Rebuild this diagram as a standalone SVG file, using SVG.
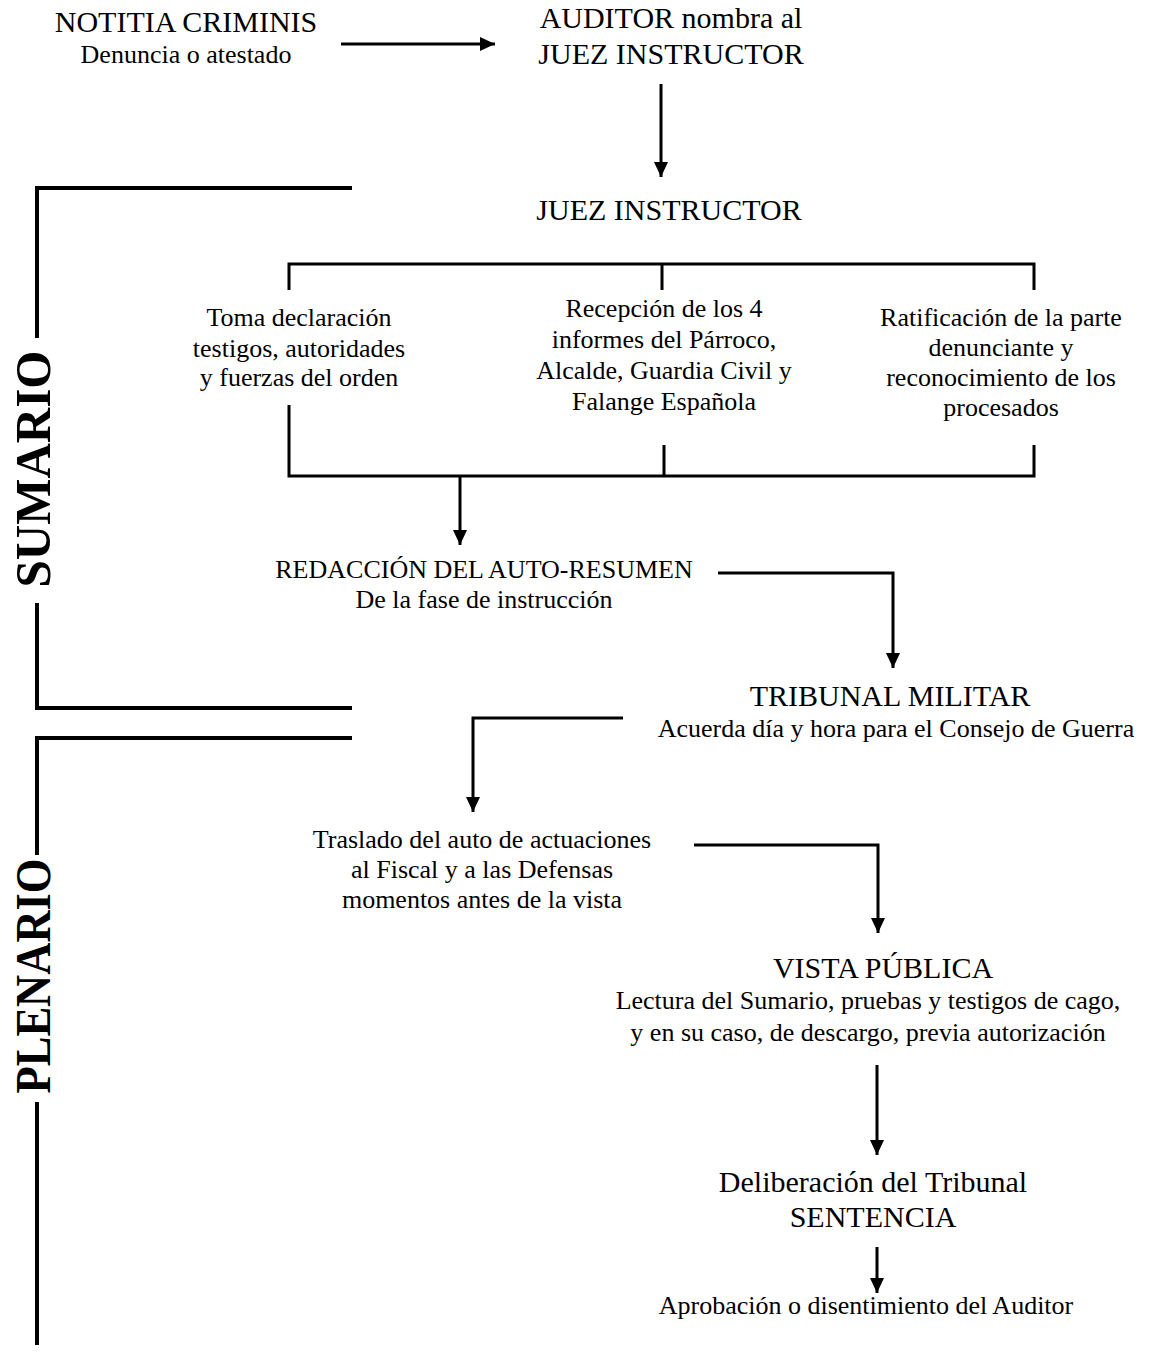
<svg xmlns="http://www.w3.org/2000/svg" width="1149" height="1353" viewBox="0 0 1149 1353">
<style>
text{font-family:"Liberation Serif","Times New Roman",serif;fill:#000;text-anchor:middle}
.b{font-size:30px}
.s{font-size:26px}
.ph{font-size:50px;font-weight:bold}
.c{fill:none;stroke:#000;stroke-width:3}
.br{fill:none;stroke:#000;stroke-width:4}
</style>
<defs>
<marker id="ah" markerUnits="userSpaceOnUse" markerWidth="15" markerHeight="14" refX="15" refY="7" orient="auto">
<path d="M0,0 L15,7 L0,14 z" fill="#000"/>
</marker>
</defs>
<rect width="1149" height="1353" fill="#fff"/>
<g id="phase-sumario">
<path class="br" d="M352,188 H37 V338 M37,603 V708 H352"/>
<text class="ph" transform="translate(50,469) rotate(-90)" textLength="237" lengthAdjust="spacingAndGlyphs">SUMARIO</text>
</g>
<g id="phase-plenario">
<path class="br" d="M352,738 H37 V855 M37,1102 V1345"/>
<text class="ph" transform="translate(50,976) rotate(-90)" textLength="235" lengthAdjust="spacingAndGlyphs">PLENARIO</text>
</g>
<g id="connectors">
<path class="c" d="M341,44 H495" marker-end="url(#ah)"/>
<path class="c" d="M661,84 V177" marker-end="url(#ah)"/>
<path class="c" d="M289,290 V264 H1034 V290 M662,264 V290"/>
<path class="c" d="M289,405 V476 H1034 V445 M664,445 V476"/>
<path class="c" d="M460,476 V545" marker-end="url(#ah)"/>
<path class="c" d="M718,573 H893 V668" marker-end="url(#ah)"/>
<path class="c" d="M623,718 H473 V812" marker-end="url(#ah)"/>
<path class="c" d="M694,845 H878 V933" marker-end="url(#ah)"/>
<path class="c" d="M877,1065 V1155" marker-end="url(#ah)"/>
<path class="c" d="M877,1247 V1293" marker-end="url(#ah)"/>
</g>
<g id="notitia">
<text class="b" x="186" y="32">NOTITIA CRIMINIS</text>
<text class="s" x="186" y="63">Denuncia o atestado</text>
</g>
<g id="auditor">
<text class="b" x="671" y="28">AUDITOR nombra al</text>
<text class="b" x="671" y="64">JUEZ INSTRUCTOR</text>
</g>
<g id="juez">
<text class="b" x="669" y="220">JUEZ INSTRUCTOR</text>
</g>
<g id="declaracion">
<text class="s" x="299" y="326">Toma declaración</text>
<text class="s" x="299" y="357">testigos, autoridades</text>
<text class="s" x="299" y="386">y fuerzas del orden</text>
</g>
<g id="recepcion">
<text class="s" x="664" y="317">Recepción de los 4</text>
<text class="s" x="664" y="348">informes del Párroco,</text>
<text class="s" x="664" y="379">Alcalde, Guardia Civil y</text>
<text class="s" x="664" y="410">Falange Española</text>
</g>
<g id="ratificacion">
<text class="s" x="1001" y="326">Ratificación de la parte</text>
<text class="s" x="1001" y="356">denunciante y</text>
<text class="s" x="1001" y="386">reconocimiento de los</text>
<text class="s" x="1001" y="416">procesados</text>
</g>
<g id="auto-resumen">
<text class="s" x="484" y="578">REDACCIÓN DEL AUTO-RESUMEN</text>
<text class="s" x="484" y="608">De la fase de instrucción</text>
</g>
<g id="tribunal">
<text class="b" x="890" y="706">TRIBUNAL MILITAR</text>
<text class="s" x="896" y="737">Acuerda día y hora para el Consejo de Guerra</text>
</g>
<g id="traslado">
<text class="s" x="482" y="848">Traslado del auto de actuaciones</text>
<text class="s" x="482" y="878">al Fiscal y a las Defensas</text>
<text class="s" x="482" y="908">momentos antes de la vista</text>
</g>
<g id="vista">
<text class="b" x="883" y="978">VISTA PÚBLICA</text>
<text class="s" x="868" y="1009">Lectura del Sumario, pruebas y testigos de cago,</text>
<text class="s" x="868" y="1041">y en su caso, de descargo, previa autorización</text>
</g>
<g id="deliberacion">
<text class="b" x="873" y="1192">Deliberación del Tribunal</text>
<text class="b" x="873" y="1227">SENTENCIA</text>
</g>
<g id="aprobacion">
<text class="s" x="866" y="1314">Aprobación o disentimiento del Auditor</text>
</g>
</svg>
